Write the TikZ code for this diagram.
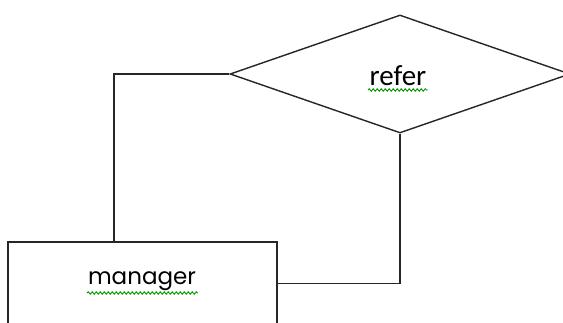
\documentclass[tikz,border=0pt]{standalone}
\usepackage{fontspec}
\setmainfont{Poppins}
\newfontfamily\relfont{Carlito}
\usetikzlibrary{shapes.geometric,decorations.pathmorphing}
\begin{document}
\begin{tikzpicture}[x=1pt,y=-1pt,
  line width=1.4pt,
  shapeline/.style={draw=black!85, line width=1.4pt},
  entitybox/.style={shapeline, rectangle, inner sep=0pt, minimum width=269pt, minimum height=83pt, font=\fontsize{23}{26}\selectfont},
  relbox/.style={shapeline, diamond, inner sep=0pt, aspect=2.88, minimum width=340pt, minimum height=118pt, font=\relfont\fontsize{29}{32}\selectfont},
  link/.style={draw=black!85, line width=1.4pt},
  squiggle/.style={draw=green!60!black, line width=0.9pt, decorate, decoration={snake, amplitude=1.2pt, segment length=4pt}}
]
\useasboundingbox (0,0) rectangle (563,323);
\clip (0,0) rectangle (563,323);
\fill[white] (0,0) rectangle (563,323);

% relationship and entity
\node[relbox] (r) at (400,74) {};
\node[entitybox] (m) at (142.5,283.5) {};
\node (rt) at (398,76) {\relfont\fontsize{29}{32}\selectfont refer};
\node (mt) at (142,281) {\fontsize{23}{26}\selectfont manager};

% spell-check underlines
\coordinate (rs1) at (368,90); \coordinate (rs2) at (428,90);
\coordinate (ms1) at (87,293); \coordinate (ms2) at (198,293);
\draw[squiggle] (rs1) -- (rs2);
\draw[squiggle] (ms1) -- (ms2);

% connectors
\draw[link] ([xshift=-28.5pt]m.north) |- (r.west);
\draw[link] (r.south) |- (m.east);
\end{tikzpicture}
\end{document}
